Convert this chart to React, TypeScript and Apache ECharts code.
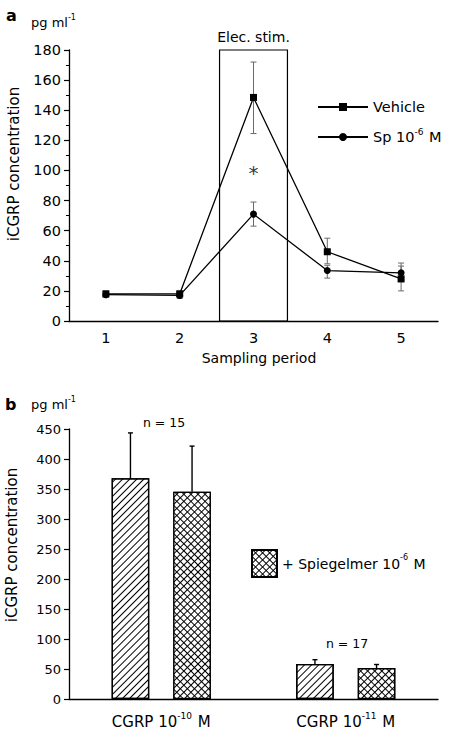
import React, { useEffect, useRef } from 'react';
import * as echarts from 'echarts';

// ---------- Panel a data ----------
const periods = [1, 2, 3, 4, 5];
const vehicleMean = [18, 18, 148.5, 46, 28];
const vehicleLow = [16, 16, 124.5, 38, 20];
const vehicleHigh = [20, 20, 172, 55, 36.5];
const spMean = [17.5, 17, 71, 33.5, 32];
const spLow = [16, 15, 63, 28.5, 26];
const spHigh = [19, 19, 79, 37, 38.5];
const stimStart = 2.54;
const stimEnd = 3.46;
const sigPoint = [3, 101];
const yTicksA = { min: 0, max: 180, interval: 20 };

// ---------- Panel b data ----------
const categoriesB = ['CGRP 10{sup|-10} M', 'CGRP 10{sup|-11} M'];
const cgrpMean = [368, 58.5];
const cgrpHigh = [443.5, 65.5];
const spiegMean = [345.5, 51.5];
const spiegHigh = [421.5, 57.5];
const nLabels = ['n = 15', 'n = 17'];
const yTicksB = { min: 0, max: 450, interval: 50 };

const FONT = 'DejaVu Sans, Liberation Sans, Arial, sans-serif';
const BAR_W = 37.6;
const BAR_GAP = 24;

const supRich = (base: number) => ({
  sup: { fontSize: Math.round(base * 0.6), verticalAlign: 'top', lineHeight: Math.round(base * 0.6), fontFamily: FONT, color: '#000', padding: [0, 1, 0, 0] },
});

export default function App() {
  const ref = useRef<HTMLDivElement>(null);
  useEffect(() => {
    document.body.style.margin = '0';
    const chart = echarts.init(ref.current!, null, { renderer: 'svg' });

    const errA: number[][] = [];
    periods.forEach((p, i) => {
      errA.push([p, vehicleLow[i], vehicleHigh[i]]);
      errA.push([p, spLow[i], spHigh[i]]);
    });
    const errB: number[][] = [];
    categoriesB.forEach((_, i) => {
      errB.push([i, cgrpMean[i], cgrpHigh[i], -1]);
      errB.push([i, spiegMean[i], spiegHigh[i], 1]);
    });

    const diagDecal = {
      symbol: 'rect',
      symbolSize: 1,
      color: '#000',
      backgroundColor: '#fff',
      dashArrayX: [1, 0],
      dashArrayY: [1, 3.4],
      rotation: -Math.PI / 4,
    };
    const crossDecal = {
      symbol: 'rect',
      symbolSize: 1,
      color: '#fff',
      backgroundColor: '#000',
      dashArrayX: [3.2, 1],
      dashArrayY: [3.2, 1],
      rotation: Math.PI / 4,
    };

    const option: any = {
      animation: false,
      backgroundColor: '#fff',
      textStyle: { fontFamily: FONT, color: '#000' },
      grid: [
        { left: 69, top: 50, width: 369, height: 271 },
        { left: 69, top: 429, width: 369, height: 272 },
      ],
      xAxis: [
        {
          gridIndex: 0,
          type: 'value',
          min: 0.5,
          max: 5.5,
          interval: 0.5,
          axisLine: { show: true, lineStyle: { color: '#000', width: 1.3 } },
          axisTick: { show: false },
          splitLine: { show: false },
          axisLabel: {
            fontSize: 14.5,
            color: '#000',
            margin: 9,
            fontFamily: FONT,
            formatter: (v: number) => (Number.isInteger(v) ? String(v) : ''),
          },
        },
        {
          gridIndex: 1,
          type: 'category',
          data: categoriesB,
          axisLine: { show: true, lineStyle: { color: '#000', width: 1.3 } },
          axisTick: { show: false },
          axisLabel: {
            interval: 0,
            fontSize: 15,
            color: '#000',
            margin: 12,
            fontFamily: FONT,
            lineHeight: 21,
            rich: supRich(15),
          },
        },
      ],
      yAxis: [
        {
          gridIndex: 0,
          type: 'value',
          ...yTicksA,
          axisLine: { show: true, lineStyle: { color: '#000', width: 1.3 } },
          axisTick: { show: true, length: 5, lineStyle: { color: '#000', width: 1.2 } },
          minorTick: { show: true, splitNumber: 2, length: 3, lineStyle: { color: '#000', width: 1 } },
          splitLine: { show: false },
          axisLabel: { fontSize: 14.5, color: '#000', margin: 8, fontFamily: FONT },
        },
        {
          gridIndex: 1,
          type: 'value',
          ...yTicksB,
          axisLine: { show: true, lineStyle: { color: '#000', width: 1.3 } },
          axisTick: { show: true, length: 5, lineStyle: { color: '#000', width: 1.2 } },
          splitLine: { show: false },
          axisLabel: { fontSize: 13, color: '#000', margin: 8, fontFamily: FONT },
        },
      ],
      legend: [
        {
          data: ['Vehicle', 'Sp'],
          orient: 'vertical',
          left: 317,
          top: 97,
          itemWidth: 50,
          itemHeight: 10,
          itemGap: 10,
          padding: 0,
          selectedMode: false,
          textStyle: { fontSize: 14.5, color: '#000', fontFamily: FONT, lineHeight: 20, rich: supRich(14.5) },
          formatter: (name: string) => (name === 'Vehicle' ? 'Vehicle' : 'Sp 10{sup|-6} M'),
        },
        {
          data: [{ name: 'Spiegelmer', icon: 'rect' }],
          left: 251,
          top: 549,
          itemWidth: 25,
          itemHeight: 27,
          padding: 0,
          selectedMode: false,
          textStyle: { fontSize: 14, color: '#000', fontFamily: FONT, lineHeight: 20, rich: supRich(14) },
          formatter: () => '+ Spiegelmer 10{sup|-6} M',
        },
      ],
      series: [
        {
          type: 'custom',
          name: 'errA',
          xAxisIndex: 0,
          yAxisIndex: 0,
          z: 1,
          data: errA,
          renderItem: (params: any, api: any) => {
            const x = api.value(0);
            const lo = api.coord([x, api.value(1)]);
            const hi = api.coord([x, api.value(2)]);
            const w = 3;
            const style = { stroke: '#6a6a6a', lineWidth: 1 };
            return {
              type: 'group',
              children: [
                { type: 'line', shape: { x1: lo[0], y1: lo[1], x2: hi[0], y2: hi[1] }, style },
                { type: 'line', shape: { x1: lo[0] - w, y1: lo[1], x2: lo[0] + w, y2: lo[1] }, style },
                { type: 'line', shape: { x1: hi[0] - w, y1: hi[1], x2: hi[0] + w, y2: hi[1] }, style },
              ],
            };
          },
        },
        {
          type: 'line',
          name: 'Vehicle',
          xAxisIndex: 0,
          yAxisIndex: 0,
          data: periods.map((p, i) => [p, vehicleMean[i]]),
          symbol: 'rect',
          symbolSize: 7,
          lineStyle: { color: '#000', width: 1.3 },
          itemStyle: { color: '#000' },
          markArea: {
            silent: true,
            itemStyle: { color: 'rgba(0,0,0,0)', borderColor: '#000', borderWidth: 1.2 },
            label: { show: true, position: 'top', formatter: 'Elec. stim.', fontSize: 14, color: '#000', fontFamily: FONT, distance: 5 },
            data: [[{ coord: [stimStart, yTicksA.min] }, { coord: [stimEnd, yTicksA.max] }]],
          },
        },
        {
          type: 'line',
          name: 'Sp',
          xAxisIndex: 0,
          yAxisIndex: 0,
          data: periods.map((p, i) => [p, spMean[i]]),
          symbol: 'circle',
          symbolSize: 7,
          lineStyle: { color: '#000', width: 1.3 },
          itemStyle: { color: '#000' },
        },
        {
          type: 'scatter',
          name: 'sig',
          xAxisIndex: 0,
          yAxisIndex: 0,
          data: [sigPoint],
          symbolSize: 0,
          label: { show: true, position: 'inside', formatter: '*', fontSize: 20, color: '#000', fontFamily: FONT, offset: [0, 4] },
        },
        {
          type: 'bar',
          name: 'CGRP',
          xAxisIndex: 1,
          yAxisIndex: 1,
          data: cgrpMean,
          barWidth: BAR_W,
          barGap: (BAR_GAP / BAR_W) * 100 + '%',
          itemStyle: { color: '#fff', borderColor: '#000', borderWidth: 1.3, decal: diagDecal },
        },
        {
          type: 'bar',
          name: 'Spiegelmer',
          xAxisIndex: 1,
          yAxisIndex: 1,
          data: spiegMean,
          barWidth: BAR_W,
          itemStyle: { color: '#000', borderColor: '#000', borderWidth: 1.3, decal: crossDecal },
        },
        {
          type: 'custom',
          name: 'errB',
          xAxisIndex: 1,
          yAxisIndex: 1,
          z: 3,
          data: errB,
          renderItem: (params: any, api: any) => {
            const c = api.value(0);
            const base = api.coord([c, api.value(1)]);
            const hi = api.coord([c, api.value(2)]);
            const off = api.value(3) * (BAR_W + BAR_GAP) / 2;
            const x = base[0] + off;
            const w = 2.5;
            const style = { stroke: '#000', lineWidth: 1.4 };
            return {
              type: 'group',
              children: [
                { type: 'line', shape: { x1: x, y1: base[1], x2: x, y2: hi[1] }, style },
                { type: 'line', shape: { x1: x - w, y1: hi[1], x2: x + w, y2: hi[1] }, style },
              ],
            };
          },
        },
      ],
      graphic: [
        { type: 'text', x: 6, y: 15, style: { text: 'a', font: `bold 16px ${FONT}`, fill: '#000', verticalAlign: 'middle' } },
        {
          type: 'text', x: 31, y: 22,
          style: { text: 'pg ml{sup|-1}', fontSize: 13, fontFamily: FONT, fill: '#000', verticalAlign: 'middle', lineHeight: 18, rich: supRich(13) },
        },
        {
          type: 'text', x: 14, y: 164, rotation: Math.PI / 2,
          style: { text: 'iCGRP concentration', fontSize: 15, fontFamily: FONT, fill: '#000', align: 'center', verticalAlign: 'middle' },
        },
        {
          type: 'text', x: 259, y: 358,
          style: { text: 'Sampling period', fontSize: 14, fontFamily: FONT, fill: '#000', align: 'center', verticalAlign: 'middle' },
        },
        { type: 'text', x: 5, y: 404, style: { text: 'b', font: `bold 16px ${FONT}`, fill: '#000', verticalAlign: 'middle' } },
        {
          type: 'text', x: 31, y: 404,
          style: { text: 'pg ml{sup|-1}', fontSize: 13, fontFamily: FONT, fill: '#000', verticalAlign: 'middle', lineHeight: 18, rich: supRich(13) },
        },
        {
          type: 'text', x: 12, y: 545, rotation: Math.PI / 2,
          style: { text: 'iCGRP concentration', fontSize: 15, fontFamily: FONT, fill: '#000', align: 'center', verticalAlign: 'middle' },
        },
        {
          type: 'text', x: 164, y: 422,
          style: { text: nLabels[0], fontSize: 12.5, fontFamily: FONT, fill: '#000', align: 'center', verticalAlign: 'middle' },
        },
        {
          type: 'text', x: 347, y: 643,
          style: { text: nLabels[1], fontSize: 12.5, fontFamily: FONT, fill: '#000', align: 'center', verticalAlign: 'middle' },
        },
      ],
    };

    chart.setOption(option);
    return () => chart.dispose();
  }, []);
  return <div ref={ref} style={{ width: 450, height: 732 }} />;
}
